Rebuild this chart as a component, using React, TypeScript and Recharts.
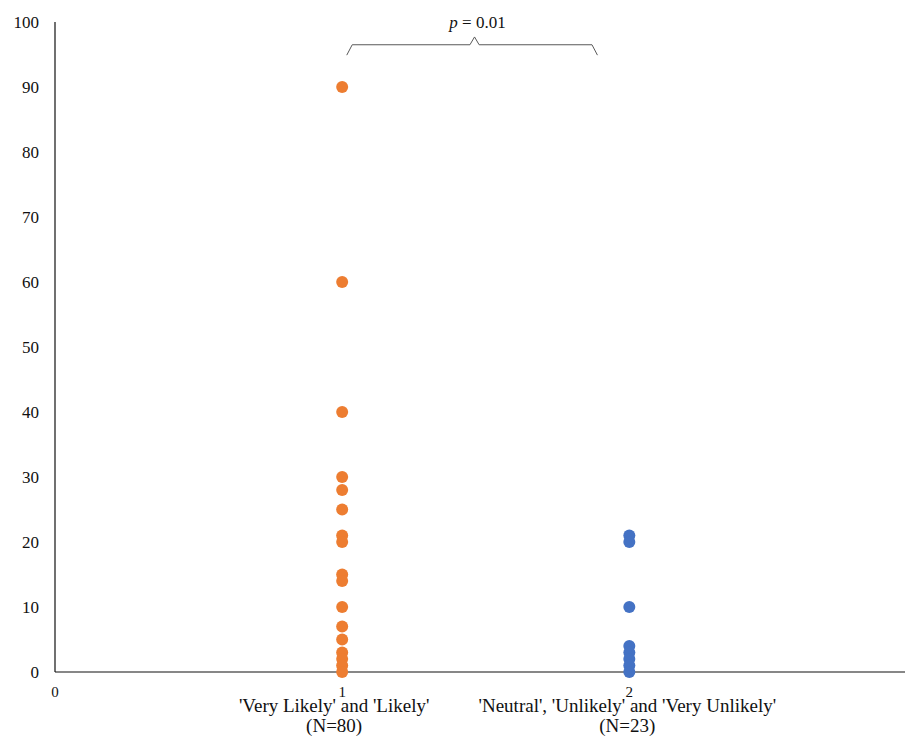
import { ReferenceDot, Scatter, ScatterChart, XAxis, YAxis } from 'recharts';

const groupPositions = [1, 2];
const groupNames = ["'Very Likely' and 'Likely'", "'Neutral', 'Unlikely' and 'Very Unlikely'"];
const groupCounts = ['(N=80)', '(N=23)'];
const likelyValues = [90, 60, 40, 30, 28, 25, 21, 20, 15, 14, 10, 7, 5, 3, 2, 1, 0];
const unlikelyValues = [21, 20, 10, 4, 3, 2, 1, 0];
const yTicks = [0, 10, 20, 30, 40, 50, 60, 70, 80, 90, 100];
const xTicks = [0, 1, 2];
const pValueText = '= 0.01';

// bracket drawn above both groups, in data units
const bracketXs = [1.016, 1.035, 1.445, 1.461, 1.477, 1.87, 1.889];
const bracketYs = [94.9, 96.5, 96.5, 97.7, 96.5, 96.5, 94.9];

const FONT = 'Liberation Serif, DejaVu Serif, serif';
const labelShift = [-8, -2];

const likelyData = likelyValues.map((v) => ({ x: groupPositions[0], y: v }));
const unlikelyData = unlikelyValues.map((v) => ({ x: groupPositions[1], y: v }));
const bracketData = bracketXs.map((x, i) => ({ x, y: bracketYs[i] }));

function XTick({ x, y, payload }: any) {
  const idx = groupPositions.indexOf(payload.value);
  return (
    <g fontFamily={FONT} fill="#111">
      <text x={x} y={y + 17} textAnchor="middle" fontSize={15} fontFamily={FONT}>
        {payload.value}
      </text>
      {idx >= 0 && (
        <>
          <text x={x + labelShift[idx]} y={y + 32} textAnchor="middle" fontSize={19} fontFamily={FONT}>
            {groupNames[idx]}
          </text>
          <text x={x + labelShift[idx]} y={y + 52} textAnchor="middle" fontSize={19} fontFamily={FONT}>
            {groupCounts[idx]}
          </text>
        </>
      )}
    </g>
  );
}

function PLabel({ viewBox }: any) {
  const cx = viewBox.x;
  const cy = viewBox.y;
  return (
    <text x={cx + 3} y={cy + 6} textAnchor="middle" fontFamily={FONT} fontSize={17} fill="#111">
      <tspan fontStyle="italic">p</tspan> {pValueText}
    </text>
  );
}

export default function App() {
  return (
    <div style={{ position: 'absolute', left: 0, top: 0, width: 906, height: 736, background: '#fff' }}>
      <ScatterChart width={906} height={736} margin={{ top: 22, right: 1, bottom: 0, left: 0 }}>
        <XAxis
          type="number"
          dataKey="x"
          domain={[0, 2.96]}
          ticks={xTicks}
          allowDataOverflow
          tickLine={false}
          axisLine={{ stroke: '#111', strokeWidth: 1.2 }}
          tick={<XTick />}
          height={64}
        />
        <YAxis
          type="number"
          dataKey="y"
          domain={[0, 100]}
          ticks={yTicks}
          tickLine={false}
          tickMargin={10}
          axisLine={{ stroke: '#111', strokeWidth: 1.2 }}
          tick={{ fontSize: 17, fill: '#111', fontFamily: FONT }}
          width={55}
        />
        <Scatter
          data={bracketData}
          line={{ stroke: '#595959', strokeWidth: 1 }}
          lineType="joint"
          shape={() => <g />}
          isAnimationActive={false}
        />
        <Scatter data={likelyData} fill="#ED7D31" shape={(p: any) => <circle cx={p.cx} cy={p.cy} r={6} fill="#ED7D31" />} isAnimationActive={false} />
        <Scatter data={unlikelyData} fill="#4472C4" shape={(p: any) => <circle cx={p.cx} cy={p.cy} r={6} fill="#4472C4" />} isAnimationActive={false} />
        <ReferenceDot x={1.461} y={100} r={0} fill="none" stroke="none" label={<PLabel />} />
      </ScatterChart>
    </div>
  );
}
